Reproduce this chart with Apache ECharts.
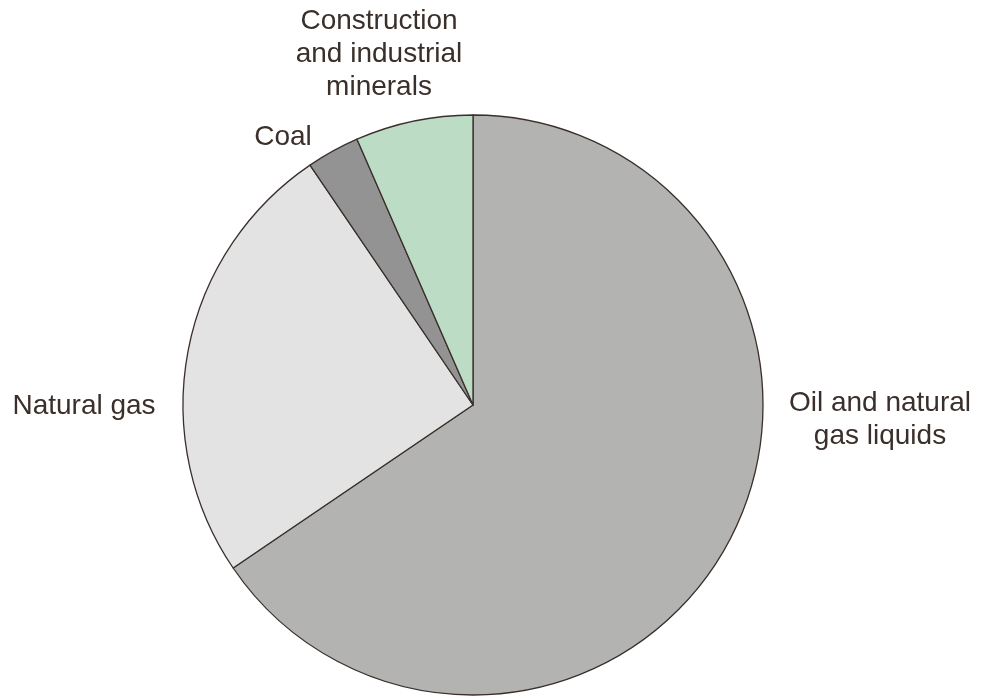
<!DOCTYPE html>
<html>
<head>
<meta charset="utf-8">
<script src="https://cdn.jsdelivr.net/npm/echarts@6/dist/echarts.min.js"></script>
<style>html,body{margin:0;padding:0;background:#fff;}#c{width:982px;height:698px;}</style>
</head>
<body>
<div id="c"></div>
<script>
const categories = ['Oil and natural\ngas liquids', 'Natural gas', 'Coal', 'Construction\nand industrial\nminerals'];
const values = [65.5, 25.0, 2.95, 6.55];
const colors = ['#b3b3b2', '#e3e3e3', '#939393', '#bddcc5'];
const labelPos = [[880, 420], [84, 406], [283, 137], [379, 54]];

const chart = echarts.init(document.getElementById('c'), null, {renderer: 'canvas'});
chart.setOption({
  animation: false,
  backgroundColor: '#ffffff',
  series: [{
    type: 'pie',
    center: [473, 405],
    radius: 290,
    startAngle: 90,
    clockwise: true,
    avoidLabelOverlap: false,
    silent: true,
    itemStyle: { borderColor: '#3a2f2a', borderWidth: 1.3 },
    label: {
      show: true,
      position: 'outside',
      color: '#3a2f2a',
      fontFamily: 'Liberation Sans',
      fontSize: 28,
      lineHeight: 33,
      align: 'center',
      formatter: '{b}'
    },
    labelLine: { show: false },
    labelLayout: function (p) {
      const pos = labelPos[p.dataIndex];
      return { x: pos[0], y: pos[1], align: 'center', verticalAlign: 'middle' };
    },
    data: categories.map((n, i) => ({ name: n, value: values[i], itemStyle: { color: colors[i] } }))
  }]
});
</script>
</body>
</html>
